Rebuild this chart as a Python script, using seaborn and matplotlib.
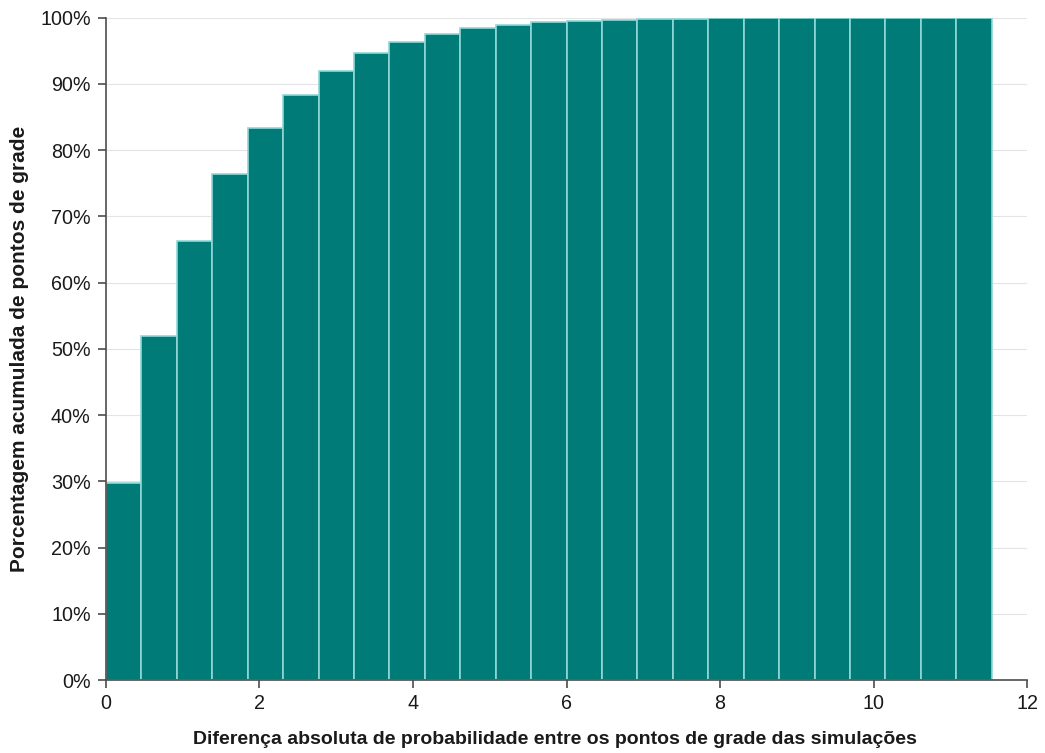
import numpy as np
import pandas as pd
import seaborn as sns
import matplotlib.pyplot as plt
from matplotlib.ticker import PercentFormatter

# Cumulative share of grid points per bin
cum_pct = [29.8, 51.9, 66.3, 76.4, 83.4, 88.4, 92.0, 94.6, 96.4, 97.6,
           98.4, 98.9, 99.3, 99.55, 99.7, 99.8, 99.85, 99.9, 99.93, 99.95,
           99.97, 99.98, 99.99, 99.995, 100.0]
bin_width = 12 / 26
x_ticks = [0, 2, 4, 6, 8, 10, 12]
y_ticks = [0, 10, 20, 30, 40, 50, 60, 70, 80, 90, 100]

bin_left = [i * bin_width for i in range(len(cum_pct))]
edges = [i * bin_width for i in range(len(cum_pct) + 1)]
df = pd.DataFrame({"diff": [b + bin_width / 2 for b in bin_left], "pct": cum_pct})

sns.set_style("white")
plt.rcParams['font.family'] = ['Liberation Sans', 'DejaVu Sans']

fig = plt.figure(figsize=(10.45, 7.53), dpi=100)
ax = fig.add_axes([0.1014, 0.0969, 0.8815, 0.8796])

sns.histplot(data=df, x="diff", weights="pct", bins=edges, ax=ax,
             color="#007b78", alpha=1, edgecolor="#8fd8d6", linewidth=1.2,
             zorder=2)

ax.set_xlim(0, 12)
ax.set_ylim(0, 100)
ax.set_xticks(x_ticks)
ax.set_yticks(y_ticks)
ax.yaxis.set_major_formatter(PercentFormatter(decimals=0))
ax.grid(axis="y", color="#e4e4e4", linewidth=0.8, zorder=0)
ax.set_axisbelow(True)

for side in ["top", "right"]:
    ax.spines[side].set_visible(False)
for side in ["left", "bottom"]:
    ax.spines[side].set_color("#4d4d4d")
    ax.spines[side].set_linewidth(1.2)

ax.tick_params(axis="both", which="major", direction="out", length=6,
               width=1.2, color="#4d4d4d", labelsize=14.2, labelcolor="#1a1a1a",
               left=True, bottom=True)
ax.tick_params(axis="x", pad=4)
ax.tick_params(axis="y", pad=5)

ax.set_xlabel("Diferença absoluta de probabilidade entre os pontos de grade das simulações",
              fontsize=14, fontweight="bold", color="#1a1a1a")
ax.xaxis.set_label_coords(0.4875, -0.077)
ax.set_ylabel("Porcentagem acumulada de pontos de grade",
              fontsize=15, fontweight="bold", labelpad=8, color="#1a1a1a")

fig.savefig("out.png", dpi=100)
